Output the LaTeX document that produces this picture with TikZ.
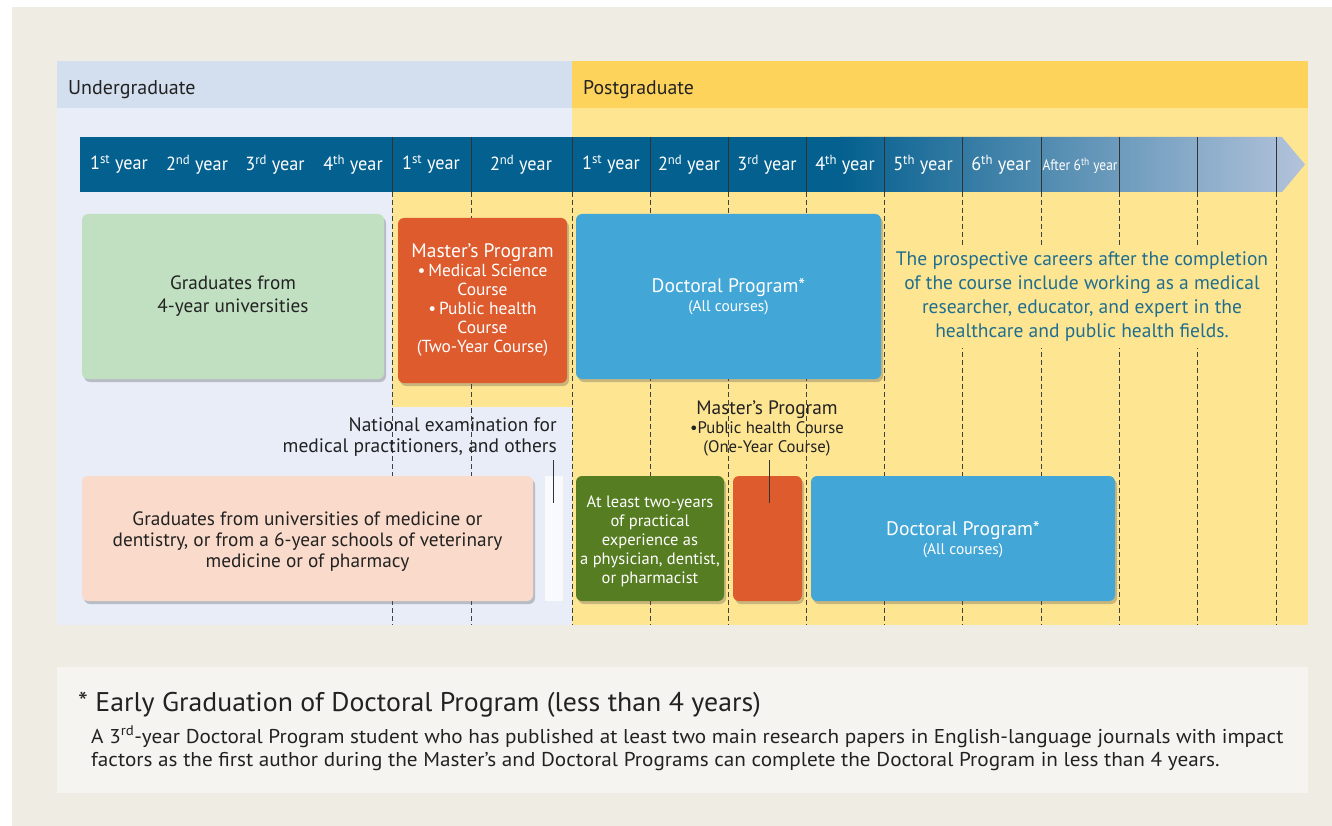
\documentclass[tikz,border=0pt]{standalone}
\usepackage{fontspec}
\setmainfont{PT Sans}
\newfontfamily\cond[FakeStretch=0.88]{PT Sans}
\newfontfamily\yrfont[FakeStretch=0.96]{PT Sans}
\newfontfamily\wide[FakeStretch=1.06]{PT Sans}
\newfontfamily\titlefont[FakeStretch=1.03]{PT Sans}
\usetikzlibrary{shadows}
\definecolor{bg}{HTML}{EFECE4}
\definecolor{ugHead}{HTML}{D3DEEF}
\definecolor{pgHead}{HTML}{FED35C}
\definecolor{ugBody}{HTML}{E8EDF8}
\definecolor{pgBody}{HTML}{FEE592}
\definecolor{barDark}{HTML}{04608F}
\definecolor{barLight}{HTML}{B3C3DB}
\definecolor{lgreen}{HTML}{C1E0C2}
\definecolor{orng}{HTML}{DE5B2E}
\definecolor{blu}{HTML}{42A6D7}
\definecolor{peach}{HTML}{FADACA}
\definecolor{dgreen}{HTML}{567D22}
\definecolor{panel}{HTML}{F5F4F0}
\definecolor{careers}{HTML}{1F6E8E}
\definecolor{txt}{HTML}{222222}
\newcommand{\dropstrut}[1]{\rule{0pt}{#1}}
\tikzset{
  progbox/.style={rounded corners=6pt, inner sep=2pt, align=center,
    drop shadow={shadow xshift=2pt, shadow yshift=-3pt, opacity=0.3, fill=black!70}},
  yearlbl/.style={text=white, font=\yrfont\fontsize{19}{19}\selectfont},
  divline/.style={draw=black!80, line width=0.8pt},
  gridline/.style={draw=black!75, line width=0.8pt, dash pattern=on 5pt off 3pt},
  labelline/.style={draw=black!80, line width=1pt},
}
\begin{document}
\begin{tikzpicture}[x=1pt,y=-1pt]
\fill[white] (0,0) rectangle (1332,826);
\fill[bg] (12,7) rectangle (1332,826);
\useasboundingbox (0,0) rectangle (1332,826);
% header
\fill[ugHead] (57,61) rectangle (572,108);
\fill[pgHead] (572,61) rectangle (1308,108);
\fill[ugBody] (57,108) rectangle (572,625);
\fill[pgBody] (572,108) rectangle (1308,625);
\fill[pgBody] (392,192) rectangle (572,407);
\node[anchor=west, inner sep=0pt, text=txt, font=\fontsize{20}{20}\selectfont] (ug) at (68,89.5) {Undergraduate};
\node[anchor=west, inner sep=0pt, text=txt, font=\fontsize{19.8}{20}\selectfont] (pg) at (583,89.5) {Postgraduate};
% timeline bar
\fill[barDark] (80,137) rectangle (840,192);
\shade[left color=barDark, right color=barLight] (840,137) -- (1282,137) -- (1305,164.5) -- (1282,192) -- (840,192) -- cycle;
\foreach \x in {392,471,572,650,728,806,884,962,1041,1119,1197,1276} {
  \draw[divline] (\x,137) -- (\x,192);
  \draw[gridline] (\x,192) -- (\x,625);
}
\node[yearlbl] (u1) at (119,164.5) {1\textsuperscript{st} year};
\node[yearlbl] (u2) at (197,164.5) {2\textsuperscript{nd} year};
\node[yearlbl] (u3) at (275,164.5) {3\textsuperscript{rd} year};
\node[yearlbl] (u4) at (353,164.5) {4\textsuperscript{th} year};
\node[yearlbl] (m1y) at (431,164.5) {1\textsuperscript{st} year};
\node[yearlbl] (m2y) at (521,164.5) {2\textsuperscript{nd} year};
\node[yearlbl] (d1y) at (611,164.5) {1\textsuperscript{st} year};
\node[yearlbl] (d2y) at (689,164.5) {2\textsuperscript{nd} year};
\node[yearlbl] (d3y) at (767,164.5) {3\textsuperscript{rd} year};
\node[yearlbl] (d4y) at (845,164.5) {4\textsuperscript{th} year};
\node[yearlbl] (d5y) at (923,164.5) {5\textsuperscript{th} year};
\node[yearlbl] (d6y) at (1001,164.5) {6\textsuperscript{th} year};
\node[yearlbl, font=\cond\fontsize{15.2}{15.2}\selectfont] (d7y) at (1080,165.5) {After 6\textsuperscript{th} year};
% upper row
\node[progbox, fill=lgreen, minimum width=302pt, minimum height=165pt, text=txt,
  font=\fontsize{19.2}{23}\selectfont] (grad4) at (233,296.5) {Graduates from\\4-year universities};
\node[progbox, fill=orng, minimum width=169pt, minimum height=165pt, text=white,
  font=\fontsize{17.4}{19}\selectfont] (mast) at (482.5,300.5)
  {{\fontsize{19.5}{21}\selectfont Master's Program}\\\textbullet\,Medical Science\\Course\\\textbullet\,Public health\\Course\\(Two-Year Course)};
\node[progbox, fill=blu, minimum width=305pt, minimum height=165pt, text=white,
  font=\fontsize{15.5}{19}\selectfont] (doc1) at (728.5,296.5)
  {{\fontsize{19.6}{21}\selectfont Doctoral Program*}\\(All courses)};
\node[fill=pgBody, text=careers, align=center, inner xsep=1pt, inner ysep=6pt,
  font=\fontsize{19.5}{24.3}\selectfont] (careers) at (1082,296.5)
  {The prospective careers after the completion\\of the course include working as a medical\\researcher, educator, and expert in the\\healthcare and public health fields.};
% lower row
\node[progbox, fill=peach, minimum width=451pt, minimum height=125pt, text=txt,
  font=\fontsize{19.3}{21}\selectfont] (peachbox) at (307.5,538.5)
  {\dropstrut{20pt}Graduates from universities of medicine or\\dentistry, or from a 6-year schools of veterinary\\medicine or of pharmacy};
\node[fill=white!70!ugBody, minimum width=18pt, minimum height=125pt, inner sep=0pt] (strip) at (554,538) {};
\node[progbox, fill=dgreen, minimum width=148pt, minimum height=125pt, text=white,
  font=\fontsize{16.5}{19}\selectfont] (exp) at (650,538.5)
  {\dropstrut{18pt}At least two-years\\of practical\\experience as\\a physician, dentist,\\or pharmacist};
\node[progbox, fill=orng, minimum width=69pt, minimum height=125pt] (mast1) at (767.5,538.5) {};
\node[progbox, fill=blu, minimum width=304pt, minimum height=125pt, text=white,
  font=\fontsize{15.5}{19}\selectfont] (doc2) at (963,538.5)
  {{\fontsize{19.6}{21}\selectfont\dropstrut{17pt}Doctoral Program*}\\(All courses)};
% labels
\node[anchor=east, align=right, text=txt, inner sep=0pt,
  font=\fontsize{19.5}{21}\selectfont] (natexam) at (557,437.5)
  {National examination for\\medical practitioners, and others};
\node[align=center, text=txt, inner sep=0pt,
  font=\fontsize{16.7}{19}\selectfont] (mlabel) at (767,428)
  {{\fontsize{19.4}{21}\selectfont Master's Program}\\\textbullet Public health Course\\(One-Year Course)};
\coordinate (nl1) at (553,460);
\coordinate (nl2) at (553,503);
\draw[labelline] (nl1) -- (nl2);
\coordinate (ml1) at (769,460);
\coordinate (ml2) at (769,503);
\draw[labelline] (ml1) -- (ml2);
% footnote panel
\fill[panel] (57,667) rectangle (1308,793);
\node[anchor=base west, inner sep=0pt, text=txt, font=\titlefont\fontsize{27}{27}\selectfont] (fntitle) at (78,711)
  {* Early Graduation of Doctoral Program (less than 4 years)};
\node[anchor=base west, inner sep=0pt, text=txt, font=\wide\fontsize{20}{20}\selectfont] (fn1) at (91,743)
  {A 3\textsuperscript{rd}-year Doctoral Program student who has published at least two main research papers in English-language journals with impact};
\node[anchor=base west, inner sep=0pt, text=txt, font=\wide\fontsize{20}{20}\selectfont] (fn2) at (91,766)
  {factors as the first author during the Master’s and Doctoral Programs can complete the Doctoral Program in less than 4 years.};
\end{tikzpicture}
\end{document}
